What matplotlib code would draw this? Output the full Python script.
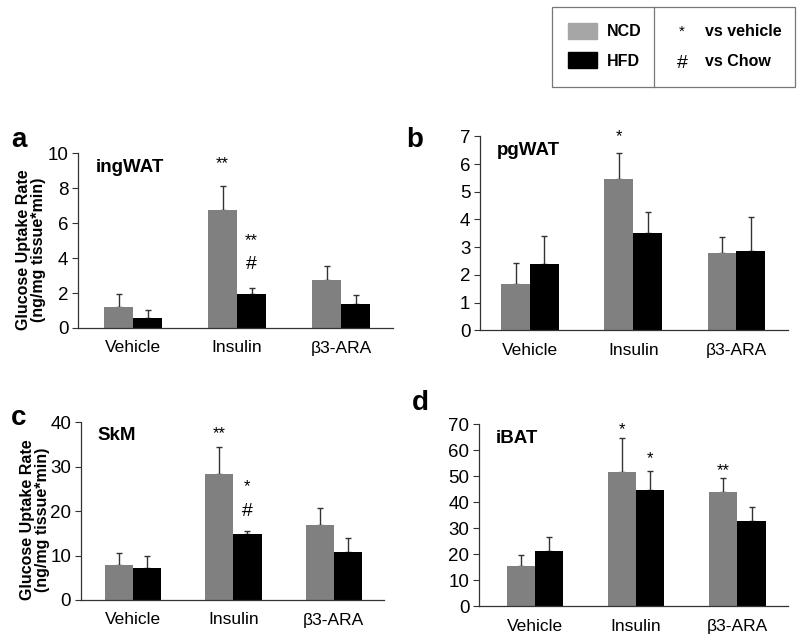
import numpy as np
import matplotlib
matplotlib.use('Agg')
import matplotlib.pyplot as plt
from matplotlib.patches import Rectangle

plt.rcParams['font.family'] = ['Liberation Sans', 'DejaVu Sans']

groups = ['Vehicle', 'Insulin', 'β3-ARA']

# panel a: ingWAT
a_ncd = [1.2, 6.75, 2.75]
a_ncd_err = [0.75, 1.4, 0.8]
a_hfd = [0.55, 1.95, 1.35]
a_hfd_err = [0.47, 0.35, 0.55]

# panel b: pgWAT
b_ncd = [1.68, 5.45, 2.78]
b_ncd_err = [0.75, 0.95, 0.6]
b_hfd = [2.4, 3.5, 2.87]
b_hfd_err = [1.0, 0.78, 1.2]

# panel c: SkM
c_ncd = [7.8, 28.3, 16.8]
c_ncd_err = [2.7, 6.2, 3.9]
c_hfd = [7.3, 14.8, 10.8]
c_hfd_err = [2.5, 0.7, 3.2]

# panel d: iBAT
d_ncd = [15.5, 51.8, 44.0]
d_ncd_err = [4.2, 12.9, 5.5]
d_hfd = [21.3, 44.6, 32.6]
d_hfd_err = [5.2, 7.4, 5.7]

ncd_color = '#808080'
hfd_color = '#000000'
line_color = '#333333'
w = 0.28

fig = plt.figure(figsize=(8, 6.4), dpi=100)


def panel(rect, ncd, ncd_err, hfd, hfd_err, ymax, ystep, xlim, title, marks):
    ax = fig.add_axes(rect)
    x = np.arange(len(groups))
    ax.bar(x - w / 2, ncd, w, color=ncd_color, zorder=2)
    ax.bar(x + w / 2, hfd, w, color=hfd_color, zorder=2)
    ax.errorbar(x - w / 2, ncd, yerr=[np.zeros(3), ncd_err], fmt='none',
                ecolor=line_color, elinewidth=1, capsize=2.5, capthick=1, zorder=1)
    ax.errorbar(x + w / 2, hfd, yerr=[np.zeros(3), hfd_err], fmt='none',
                ecolor=line_color, elinewidth=1, capsize=2.5, capthick=1, zorder=1)
    ax.set_ylim(0, ymax)
    ax.set_yticks(np.arange(0, ymax + ystep / 2, ystep))
    ax.set_xlim(*xlim)
    ax.set_xticks(x)
    ax.set_xticklabels(groups)
    ax.tick_params(axis='x', length=0, pad=9, labelsize=12.5)
    ax.tick_params(axis='y', length=4, width=0.8, color=line_color, pad=3, labelsize=13.5)
    for s in ['top', 'right']:
        ax.spines[s].set_visible(False)
    for s in ['left', 'bottom']:
        ax.spines[s].set_color(line_color)
        ax.spines[s].set_linewidth(0.9)
    ax.text(0.055, 0.97, title, transform=ax.transAxes, fontsize=13.5,
            fontweight='bold', va='top', ha='left')
    # significance marks: (bar index, series, text, offset in points)
    tops_n = np.array(ncd) + np.array(ncd_err)
    tops_h = np.array(hfd) + np.array(hfd_err)
    for i, series, txt, dy in marks:
        if series == 'n':
            xx, yy = i - w / 2, tops_n[i]
        else:
            xx, yy = i + w / 2, tops_h[i]
        fs = 14 if txt == '#' else 12
        ax.annotate(txt, xy=(xx, yy), xytext=(0, dy), textcoords='offset points',
                    ha='center', va='center', fontsize=fs)
    return ax


ax_a = panel([0.0975, 0.4875, 0.394, 0.273], a_ncd, a_ncd_err, a_hfd, a_hfd_err,
             10, 2, (-0.53, 2.5), 'ingWAT',
             [(1, 'n', '**', 16), (1, 'h', '**', 34), (1, 'h', '#', 17)])
ax_b = panel([0.6, 0.484, 0.385, 0.303], b_ncd, b_ncd_err, b_hfd, b_hfd_err,
             7, 1, (-0.485, 2.5), 'pgWAT',
             [(1, 'n', '*', 12)])
ax_c = panel([0.101, 0.0625, 0.379, 0.278], c_ncd, c_ncd_err, c_hfd, c_hfd_err,
             40, 10, (-0.52, 2.5), 'SkM',
             [(1, 'n', '**', 9), (1, 'h', '*', 32), (1, 'h', '#', 14)])
ax_d = panel([0.599, 0.053, 0.386, 0.284], d_ncd, d_ncd_err, d_hfd, d_hfd_err,
             70, 10, (-0.55, 2.5), 'iBAT',
             [(1, 'n', '*', 6), (1, 'h', '*', 9), (2, 'n', '**', 5)])

for ax in (ax_a, ax_c):
    ax.set_ylabel('Glucose Uptake Rate\n(ng/mg tissue*min)', fontsize=11.5,
                  fontweight='bold', linespacing=1.0)
    ax.yaxis.set_label_coords(-0.10, 0.45)

# overlay in pixel coordinates for panel letters and the legend box
ov = fig.add_axes([0, 0, 1, 1], facecolor='none')
ov.set_xlim(0, 800)
ov.set_ylim(640, 0)
ov.axis('off')

for letter, px, py in (('a', 11, 147), ('b', 406, 147), ('c', 11, 425), ('d', 412, 410)):
    ov.text(px, py, letter, fontsize=20, fontweight='bold', ha='left', va='baseline')

ov.add_patch(Rectangle((552, 7), 243, 80, fill=False, edgecolor='#777777', lw=0.9))
ov.plot([654, 654], [7, 87], color='#777777', lw=0.9)
ov.add_patch(Rectangle((568, 23), 29, 16, color='#a6a6a6'))
ov.add_patch(Rectangle((568, 52), 29, 16, color=hfd_color))
ov.text(607, 32, 'NCD', fontsize=11.5, fontweight='bold', va='center')
ov.text(607, 61, 'HFD', fontsize=11.5, fontweight='bold', va='center')
ov.text(682, 32, '*', fontsize=11, ha='center', va='center')
ov.text(682, 63, '#', fontsize=14, ha='center', va='center')
ov.text(705, 32, 'vs vehicle', fontsize=11.5, fontweight='bold', va='center')
ov.text(705, 61, 'vs Chow', fontsize=11.5, fontweight='bold', va='center')

fig.savefig('out.png', dpi=100)
